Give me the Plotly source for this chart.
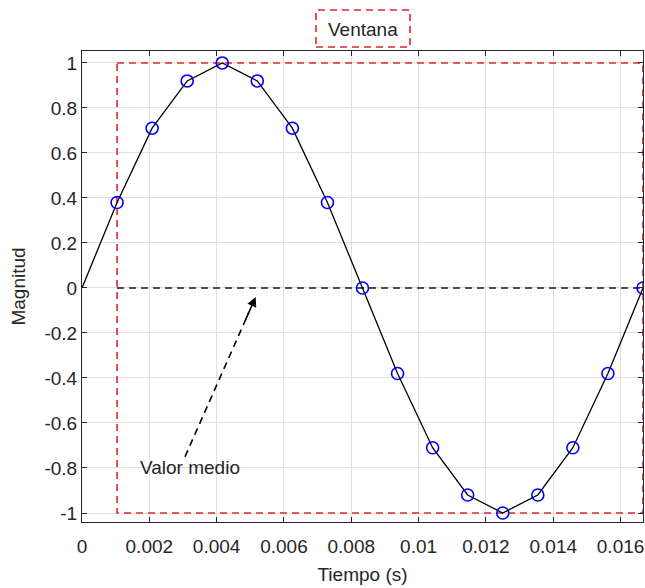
import plotly.graph_objects as go

# Data
tiempo = [0.0, 0.001042, 0.002083, 0.003125, 0.004167, 0.005208, 0.00625, 0.007292,
          0.008333, 0.009375, 0.010417, 0.011458, 0.0125, 0.013542, 0.014583, 0.015625, 0.016667]
magnitud = [0.0, 0.38, 0.71, 0.92, 1.0, 0.92, 0.71, 0.38,
            0.0, -0.38, -0.71, -0.92, -1.0, -0.92, -0.71, -0.38, 0.0]
muestras_t = tiempo[1:]
muestras_y = magnitud[1:]

ventana_x = [0.001042, 0.016667]
ventana_y = [-1.0, 1.0]
valor_medio = 0.0

x_ticks = [0, 0.002, 0.004, 0.006, 0.008, 0.01, 0.012, 0.014, 0.016]
x_labels = ["0", "0.002", "0.004", "0.006", "0.008", "0.01", "0.012", "0.014", "0.016"]
y_ticks = [1, 0.8, 0.6, 0.4, 0.2, 0, -0.2, -0.4, -0.6, -0.8, -1]
y_labels = ["1", "0.8", "0.6", "0.4", "0.2", "0", "-0.2", "-0.4", "-0.6", "-0.8", "-1"]

arrow_tail = (0.00306, -0.75)
arrow_head = (0.00516, -0.04)
label_pos = (0.00320, -0.80)

RED = "#e3242b"
FONT = "Liberation Sans, Arial, sans-serif"
TXT = "#262626"
FS = 19

fig = go.Figure()

# Window rectangle (red dashed)
fig.add_trace(go.Scatter(
    x=[ventana_x[0], ventana_x[1], ventana_x[1], ventana_x[0], ventana_x[0]],
    y=[ventana_y[1], ventana_y[1], ventana_y[0], ventana_y[0], ventana_y[1]],
    mode="lines", line=dict(color=RED, width=1.6, dash="7px,5px"),
    hoverinfo="skip", showlegend=False, cliponaxis=False))

# Mean value line (black dashed)
fig.add_trace(go.Scatter(
    x=[ventana_x[0], ventana_x[1]], y=[valor_medio, valor_medio],
    mode="lines", line=dict(color="#1a1a1a", width=1.6, dash="7px,5px"),
    hoverinfo="skip", showlegend=False))

# Signal line
fig.add_trace(go.Scatter(
    x=tiempo, y=magnitud, mode="lines",
    line=dict(color="black", width=1.3), showlegend=False))

# Samples
fig.add_trace(go.Scatter(
    x=muestras_t, y=muestras_y, mode="markers",
    marker=dict(symbol="circle-open", size=12, color="#0000ff", line=dict(width=1.6)),
    showlegend=False, cliponaxis=True))

# Dashed arrow shaft
fr = 0.9
fig.add_trace(go.Scatter(
    x=[arrow_tail[0], arrow_tail[0] + fr * (arrow_head[0] - arrow_tail[0])],
    y=[arrow_tail[1], arrow_tail[1] + fr * (arrow_head[1] - arrow_tail[1])],
    mode="lines", line=dict(color="black", width=1.6, dash="7px,5px"),
    hoverinfo="skip", showlegend=False))

# Arrow head
fig.add_annotation(
    x=arrow_head[0], y=arrow_head[1],
    ax=arrow_tail[0] + 0.85 * (arrow_head[0] - arrow_tail[0]),
    ay=arrow_tail[1] + 0.85 * (arrow_head[1] - arrow_tail[1]),
    xref="x", yref="y", axref="x", ayref="y",
    showarrow=True, arrowhead=2, arrowsize=1.2, arrowwidth=1.6, arrowcolor="black", text="")

fig.add_annotation(
    x=label_pos[0], y=label_pos[1], xref="x", yref="y",
    text="Valor medio", showarrow=False,
    font=dict(family=FONT, size=FS, color=TXT))

# Title in dashed red box
fig.add_shape(type="rect", xref="paper", yref="paper",
              x0=(316 - 82) / 561, x1=(410 - 82) / 561,
              y0=(522 - 47) / 471, y1=(522 - 10) / 471,
              line=dict(color=RED, width=1.6, dash="7px,5px"))
fig.add_annotation(x=(363 - 82) / 561, y=(522 - 29) / 471, xref="paper", yref="paper",
                   xanchor="center", yanchor="middle",
                   text="Ventana", showarrow=False,
                   font=dict(family=FONT, size=FS, color=TXT))

axis_common = dict(
    showline=True, linecolor=TXT, linewidth=1, mirror="ticks",
    ticks="inside", ticklen=5, tickcolor=TXT,
    showgrid=True, gridcolor="#e0e0e0", gridwidth=1, zeroline=False,
    tickfont=dict(family=FONT, size=FS, color=TXT), automargin=False,
)

fig.update_xaxes(range=[0, 0.016667], tickvals=x_ticks, ticktext=x_labels,
                 ticklabelstandoff=7,
                 title=dict(text="Tiempo (s)", font=dict(family=FONT, size=FS, color=TXT), standoff=11),
                 **axis_common)
fig.update_yaxes(range=[-1.04, 1.053], tickvals=y_ticks, ticktext=y_labels,
                 title=dict(text="Magnitud", font=dict(family=FONT, size=FS, color=TXT), standoff=13),
                 **axis_common)

fig.update_layout(
    width=645, height=588,
    margin=dict(l=82, r=2, t=51, b=66, autoexpand=False),
    paper_bgcolor="white", plot_bgcolor="white",
    showlegend=False,
)

fig.write_html("out.html", config={"displayModeBar": False},
               post_script="document.body.style.margin='0';document.body.style.overflow='hidden';")
